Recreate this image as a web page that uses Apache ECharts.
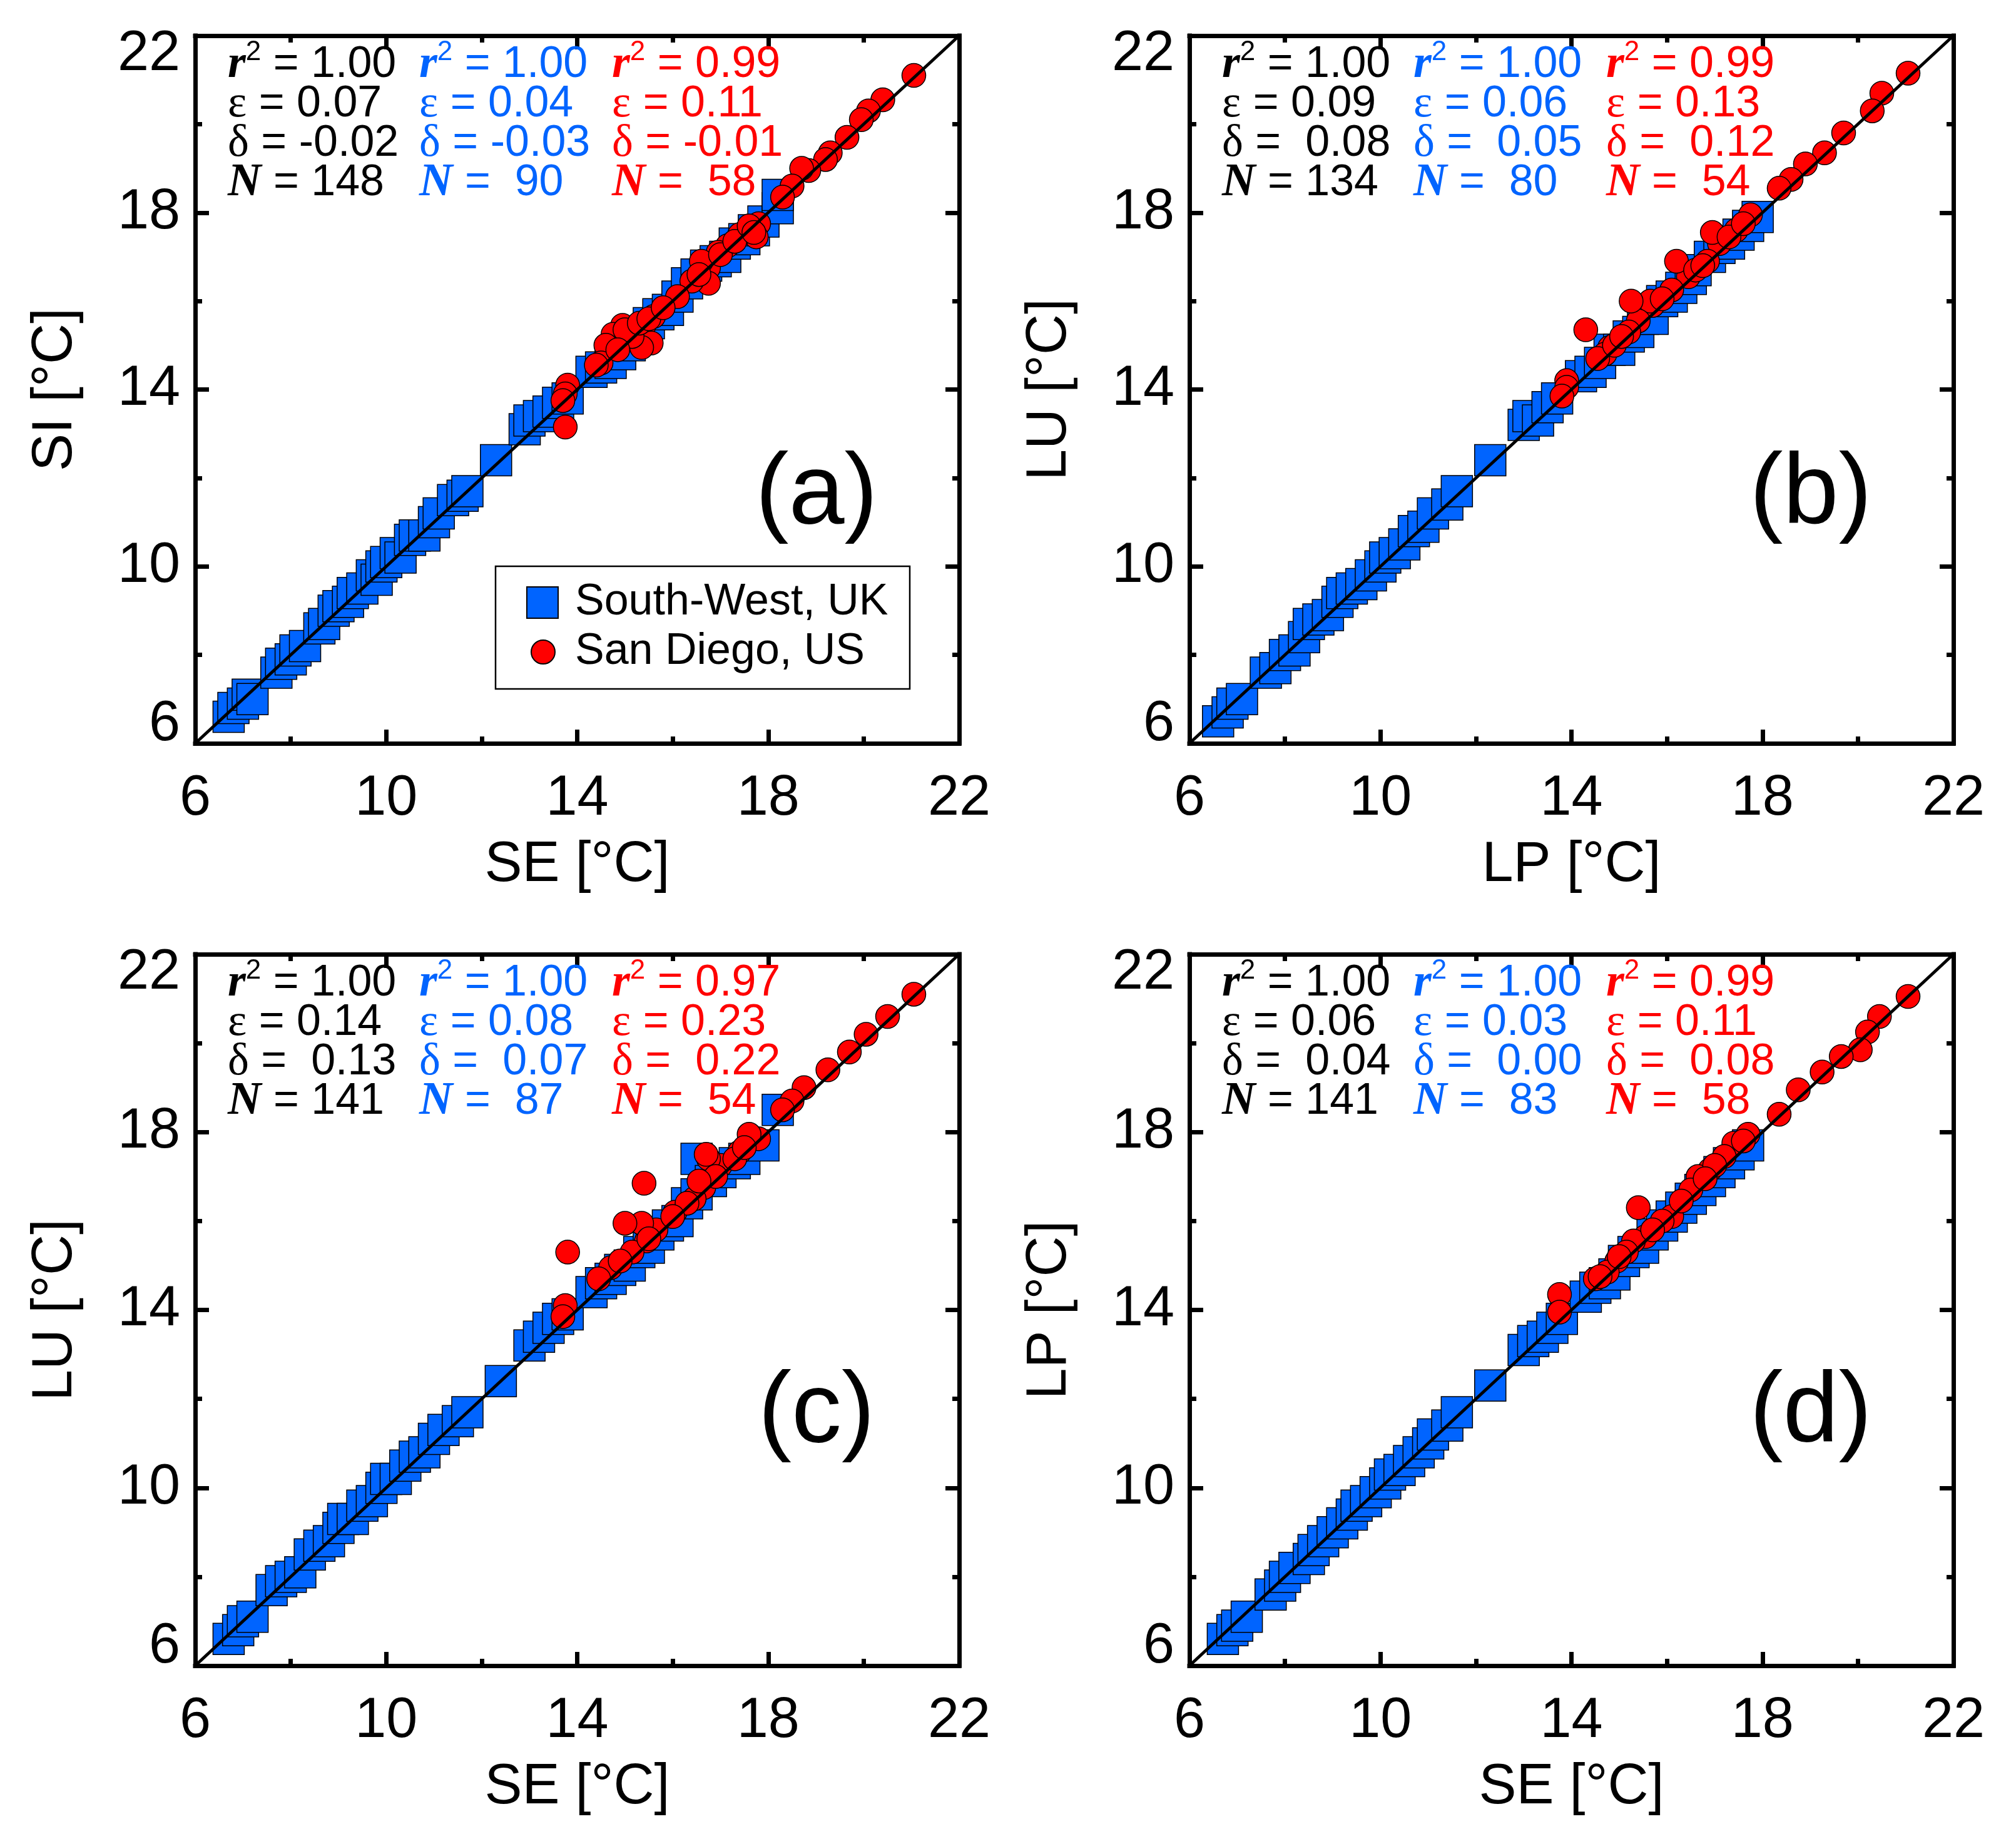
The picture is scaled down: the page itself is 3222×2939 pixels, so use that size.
<!DOCTYPE html>
<html>
<head>
<meta charset="utf-8">
<script src="https://cdn.jsdelivr.net/npm/echarts@6/dist/echarts.min.js"></script>
<style>
  html, body { margin: 0; background: #fff; }
  #chart { width: 3222px; height: 2939px; }
</style>
</head>
<body>
<div id="chart"></div>
<script>
// axis ticks
var tickMin = 6, tickMax = 22, tickStep = 4;

// (a) SE vs SI
var ukA = [[6.7,6.6],[6.8,6.8],[7.0,6.9],[7.1,7.1],[7.2,7.0],[7.7,7.6],[7.8,7.8],[8.0,7.9],[8.1,8.1],[8.3,8.2],
  [8.6,8.6],[8.7,8.7],[8.9,9.0],[9.0,9.1],[9.2,9.2],[9.3,9.4],[9.5,9.5],[9.7,9.8],[9.8,9.7],[9.9,10.0],
  [10.0,10.1],[10.2,10.3],[10.3,10.2],[10.5,10.6],[10.6,10.7],[10.8,10.7],[11.0,11.0],[11.1,11.2],[11.4,11.5],[11.6,11.6],
  [11.7,11.7],[12.3,12.4],[12.9,13.1],[13.0,13.3],[13.2,13.4],[13.4,13.5],[13.6,13.7],[13.8,13.8],[14.3,14.4],[14.5,14.5],
  [14.7,14.6],[14.9,14.8],[15.1,15.0],[15.3,15.3],[15.5,15.5],[15.7,15.7],[15.9,15.8],[16.1,16.1],[16.3,16.4],[16.5,16.6],
  [16.7,16.8],[16.9,16.9],[17.1,17.0],[17.3,17.3],[17.5,17.4],[17.7,17.6],[17.9,17.8],[18.2,18.1],[18.2,18.4]];
var sdA = [[21.05,21.1],[20.4,20.55],[20.1,20.3],[19.95,20.1],[19.65,19.7],[19.3,19.35],[19.2,19.2],[18.85,18.95],[18.7,19.0],[18.5,18.6],
  [18.3,18.35],[17.8,17.75],[17.75,17.45],[17.55,17.6],[17.4,17.5],[17.15,17.25],[16.95,17.1],[16.75,16.75],[16.75,16.4],[16.4,16.45],
  [16.1,16.1],[15.6,15.65],[15.4,15.45],[15.55,15.05],[15.35,14.95],[15.15,15.2],[14.95,15.45],[14.75,15.25],[14.6,15.0],[14.5,14.6],
  [14.4,14.55],[13.8,14.1],[13.75,13.9],[13.7,13.75],[13.75,13.15],[15.0,15.35],[15.3,15.5],[15.5,15.6],[16.6,16.9],[17.0,17.05],
  [17.3,17.35],[17.6,17.7],[15.8,15.85],[14.85,14.9],[16.55,16.6],[17.7,17.55]];
var statsA = [[1.00, 0.07, -0.02, 148], [1.00, 0.04, -0.03, 90], [0.99, 0.11, -0.01, 58]];

// (b) LP vs LU
var ukB = [[6.6,6.5],[6.8,6.7],[6.9,6.9],[7.1,7.0],[7.6,7.6],[7.8,7.7],[8.0,8.0],[8.2,8.1],[8.4,8.4],[8.5,8.7],
  [8.7,8.8],[8.9,8.9],[9.1,9.2],[9.2,9.4],[9.4,9.5],[9.6,9.6],[9.8,9.8],[10.0,10.0],[10.1,10.2],[10.3,10.3],
  [10.5,10.5],[10.7,10.8],[10.9,10.9],[11.1,11.2],[11.4,11.4],[11.6,11.7],[12.3,12.4],[13.0,13.2],[13.1,13.4],[13.3,13.3],
  [13.5,13.6],[13.7,13.8],[14.2,14.3],[14.4,14.4],[14.6,14.6],[14.8,14.9],[15.0,14.9],[15.2,15.2],[15.4,15.3],[15.5,15.6],
  [15.7,15.6],[15.9,16.0],[16.1,16.1],[16.3,16.3],[16.5,16.5],[16.6,16.7],[16.9,17.0],[17.1,17.2],[17.3,17.3],[17.5,17.5],
  [17.7,17.7],[17.9,17.9]];
var sdB = [[21.05,21.15],[20.5,20.7],[20.3,20.3],[19.7,19.8],[19.3,19.35],[18.9,19.1],[18.6,18.75],[18.35,18.55],[17.75,17.95],[17.45,17.6],
  [17.1,17.3],[16.95,17.55],[16.85,16.9],[16.45,16.55],[16.2,16.9],[16.1,16.25],[15.7,15.9],[15.65,16.0],[15.4,15.55],[15.2,15.3],
  [15.25,16.0],[14.8,14.95],[14.7,14.8],[14.55,14.7],[14.3,15.35],[13.9,14.2],[13.9,14.05],[13.8,13.85],[16.6,16.7],[17.3,17.45],
  [15.9,16.05],[14.9,15.0],[15.05,15.2],[17.6,17.75],[16.75,16.8]];
var statsB = [[1.00, 0.09, 0.08, 134], [1.00, 0.06, 0.05, 80], [0.99, 0.13, 0.12, 54]];

// (c) SE vs LU
var ukC = [[6.7,6.6],[6.9,6.8],[7.0,7.0],[7.2,7.1],[7.6,7.7],[7.8,7.9],[8.0,8.0],[8.2,8.1],[8.4,8.5],[8.6,8.7],
  [8.8,8.8],[9.0,9.1],[9.1,9.3],[9.3,9.3],[9.5,9.6],[9.7,9.7],[9.9,10.0],[10.0,10.2],[10.2,10.2],[10.4,10.5],
  [10.6,10.7],[10.8,10.8],[11.0,11.1],[11.2,11.3],[11.5,11.5],[11.7,11.7],[12.4,12.4],[13.0,13.2],[13.2,13.4],[13.4,13.6],
  [13.6,13.8],[13.8,13.9],[14.3,14.4],[14.5,14.6],[14.7,14.7],[14.9,14.9],[15.1,15.0],[15.3,15.3],[15.5,15.4],[15.7,15.7],
  [15.9,15.9],[16.1,16.0],[16.3,16.4],[16.5,16.6],[16.5,17.4],[16.8,16.9],[17.0,17.1],[17.3,17.3],[17.5,17.4],[17.9,17.7],
  [18.2,18.5]];
var sdC = [[21.05,21.1],[20.5,20.6],[20.05,20.2],[19.7,19.8],[19.25,19.4],[18.75,19.0],[18.5,18.7],[18.3,18.5],[17.8,17.85],[17.6,17.95],
  [17.4,17.55],[17.0,17.25],[16.75,17.4],[16.7,17.5],[16.65,16.75],[16.45,16.5],[16.05,16.2],[15.65,15.8],[15.45,15.55],[15.15,15.3],
  [15.35,15.95],[15.0,15.95],[15.4,16.85],[14.7,14.95],[14.45,14.7],[13.75,14.1],[13.7,13.85],[13.8,15.3],[16.3,16.4],[16.9,17.0],
  [15.5,15.6],[14.9,15.1],[16.0,16.1],[17.3,17.4],[17.5,17.65],[16.55,16.9]];
var statsC = [[1.00, 0.14, 0.13, 141], [1.00, 0.08, 0.07, 87], [0.97, 0.23, 0.22, 54]];

// (d) SE vs LP
var ukD = [[6.7,6.6],[6.9,6.8],[7.0,6.9],[7.2,7.1],[7.7,7.6],[7.9,7.8],[8.0,8.0],[8.2,8.2],[8.5,8.4],[8.6,8.6],
  [8.8,8.8],[9.0,9.0],[9.2,9.2],[9.4,9.4],[9.5,9.6],[9.7,9.7],[9.9,9.9],[10.1,10.1],[10.2,10.3],[10.4,10.4],
  [10.6,10.6],[10.8,10.8],[11.0,11.0],[11.1,11.2],[11.4,11.4],[11.6,11.7],[12.3,12.3],[13.0,13.1],[13.2,13.3],[13.4,13.4],
  [13.6,13.6],[13.8,13.8],[14.3,14.3],[14.5,14.5],[14.7,14.6],[14.9,14.8],[15.1,15.1],[15.3,15.3],[15.5,15.4],[15.7,15.7],
  [15.9,15.9],[16.1,16.1],[16.3,16.3],[16.5,16.5],[16.7,16.7],[16.9,16.9],[17.1,17.1],[17.3,17.3],[17.5,17.5],[17.7,17.7]];
var sdD = [[21.05,21.05],[20.45,20.6],[20.2,20.25],[20.05,19.85],[19.65,19.7],[19.25,19.35],[18.75,18.95],[18.35,18.4],[17.7,17.95],[17.4,17.75],
  [17.2,17.45],[16.9,17.15],[16.65,17.0],[16.5,16.7],[16.1,16.1],[15.55,15.65],[15.3,15.55],[15.15,15.3],[15.4,16.3],[14.95,15.1],
  [14.75,14.85],[14.5,14.7],[13.75,14.35],[13.75,13.95],[16.3,16.45],[15.9,16.0],[17.0,17.25],[15.0,15.2],[14.6,14.75],[17.6,17.8],
  [16.8,16.95],[15.7,15.8]];
var statsD = [[1.00, 0.06, 0.04, 141], [1.00, 0.03, 0.00, 83], [0.99, 0.11, 0.08, 58]];

var blue = '#0064ff', red = '#ff0000';
var sans = 'Liberation Sans', serif = 'Liberation Serif';

var panels = [
  {left: 312, top: 57, height: 1131, xName: 'SE [°C]', yName: 'SI [°C]', uk: ukA, sd: sdA, stats: statsA, tag: '(a)'},
  {left: 1901, top: 57, height: 1131, xName: 'LP [°C]', yName: 'LU [°C]', uk: ukB, sd: sdB, stats: statsB, tag: '(b)'},
  {left: 312, top: 1525, height: 1137, xName: 'SE [°C]', yName: 'LU [°C]', uk: ukC, sd: sdC, stats: statsC, tag: '(c)'},
  {left: 1901, top: 1525, height: 1137, xName: 'SE [°C]', yName: 'LP [°C]', uk: ukD, sd: sdD, stats: statsD, tag: '(d)'}
];
var panelWidth = 1221;

//坐标轴（四边都画框和刻度）
function makeAxis(gridIndex, position, withLabel, name) {
  var isX = position === 'bottom' || position === 'top';
  var label = {
    show: withLabel,
    margin: isX ? 44 : 24,
    fontFamily: sans,
    fontSize: 90,
    color: '#000'
  };
  if (!isX) {
    // 两端的刻度值向内收
    label.lineHeight = 60;
    label.verticalAlignMaxLabel = 'top';
    label.verticalAlignMinLabel = 'bottom';
  }
  return {
    type: 'value',
    gridIndex: gridIndex,
    position: position,
    min: tickMin,
    max: tickMax,
    interval: tickStep,
    name: withLabel ? name : '',
    nameLocation: 'middle',
    nameGap: isX ? 150 : 178,
    nameTextStyle: {fontFamily: sans, fontSize: 90, color: '#000'},
    axisLine: {show: true, onZero: false, lineStyle: {color: '#000', width: 7, cap: 'square'}},
    axisTick: {show: true, inside: true, length: 22, lineStyle: {color: '#000', width: 7}},
    minorTick: {show: true, splitNumber: 2, length: 11, lineStyle: {color: '#000', width: 7}},
    splitLine: {show: false},
    minorSplitLine: {show: false},
    axisLabel: label
  };
}

var grids = [], xAxes = [], yAxes = [], series = [], graphics = [];
var colOffsets = [52, 358, 666];
var rowOffsets = [47, 110, 173, 236];
var colColors = ['#000000', blue, red];

function fmt(v) { return v.toFixed(2); }
function statLines(s) {
  return [
    '{s|r}{p|2}{t| = ' + fmt(s[0]) + '}',
    '{g|ε}{t| = ' + fmt(s[1]) + '}',
    '{g|δ}{t| = ' + (s[2] >= 0 ? ' ' : '') + fmt(s[2]) + '}',
    '{s|N}{t| = ' + (s[3] < 100 ? ' ' : '') + s[3] + '}'
  ];
}

panels.forEach(function (p, i) {
  grids.push({left: p.left, top: p.top, width: panelWidth, height: p.height, containLabel: false});
  xAxes.push(makeAxis(i, 'bottom', true, p.xName));
  xAxes.push(makeAxis(i, 'top', false));
  yAxes.push(makeAxis(i, 'left', true, p.yName));
  yAxes.push(makeAxis(i, 'right', false));

  series.push({
    name: 'South-West, UK',
    type: 'scatter',
    xAxisIndex: 2 * i,
    yAxisIndex: 2 * i,
    symbol: 'rect',
    symbolSize: 50,
    itemStyle: {color: blue, borderColor: '#000', borderWidth: 1.5, opacity: 1},
    data: p.uk,
    z: 2
  });
  series.push({
    name: 'San Diego, US',
    type: 'scatter',
    xAxisIndex: 2 * i,
    yAxisIndex: 2 * i,
    symbol: 'circle',
    symbolSize: 38,
    itemStyle: {color: red, borderColor: '#000', borderWidth: 1.5, opacity: 1},
    data: p.sd,
    z: 3
  });
  // 1:1 线
  series.push({
    name: '1:1',
    type: 'line',
    xAxisIndex: 2 * i,
    yAxisIndex: 2 * i,
    symbol: 'none',
    lineStyle: {color: '#000', width: 5},
    data: [[tickMin, tickMin], [tickMax, tickMax]],
    z: 5
  });

  p.stats.forEach(function (s, c) {
    var col = colColors[c];
    statLines(s).forEach(function (line, r) {
      graphics.push({
        type: 'text',
        x: p.left + colOffsets[c],
        y: p.top + rowOffsets[r],
        z: 20,
        style: {
          text: line,
          fill: col,
          align: 'left',
          verticalAlign: 'middle',
          fontFamily: sans,
          fontSize: 70,
          rich: {
            s: {fontFamily: serif, fontStyle: 'italic', fontWeight: 'bold', fontSize: 74, fill: col, lineHeight: 63},
            g: {fontFamily: serif, fontSize: 72, fill: col, lineHeight: 63},
            p: {fontFamily: sans, fontSize: 44, fill: col, lineHeight: 44, padding: [0, 0, 40, 0]},
            t: {fontFamily: sans, fontSize: 70, fill: col, lineHeight: 63}
          }
        }
      });
    });
  });

  graphics.push({
    type: 'text',
    x: p.left + 993,
    y: p.top + 735,
    z: 20,
    style: {text: p.tag, fill: '#000', fontFamily: sans, fontSize: 160, align: 'center', verticalAlign: 'middle'}
  });
});

// 图例外框
graphics.push({
  type: 'rect',
  z: 1,
  shape: {x: 792, y: 905, width: 662, height: 196},
  style: {fill: '#fff', stroke: '#000', lineWidth: 2.5}
});

var chart = echarts.init(document.getElementById('chart'), null, {renderer: 'canvas'});
chart.setOption({
  backgroundColor: '#fff',
  animation: false,
  grid: grids,
  xAxis: xAxes,
  yAxis: yAxes,
  legend: [
    {
      data: ['South-West, UK'],
      left: 841, top: 928, padding: 0,
      itemWidth: 50, itemHeight: 50,
      selectedMode: false,
      textStyle: {fontFamily: sans, fontSize: 70, color: '#000', lineHeight: 70, padding: [0, 0, 0, 22]},
      z: 10
    },
    {
      data: ['San Diego, US'],
      left: 848, top: 1007, padding: 0,
      itemWidth: 38, itemHeight: 38,
      selectedMode: false,
      textStyle: {fontFamily: sans, fontSize: 70, color: '#000', lineHeight: 70, padding: [0, 0, 0, 27]},
      z: 10
    }
  ],
  graphic: graphics,
  series: series
});
</script>
</body>
</html>
